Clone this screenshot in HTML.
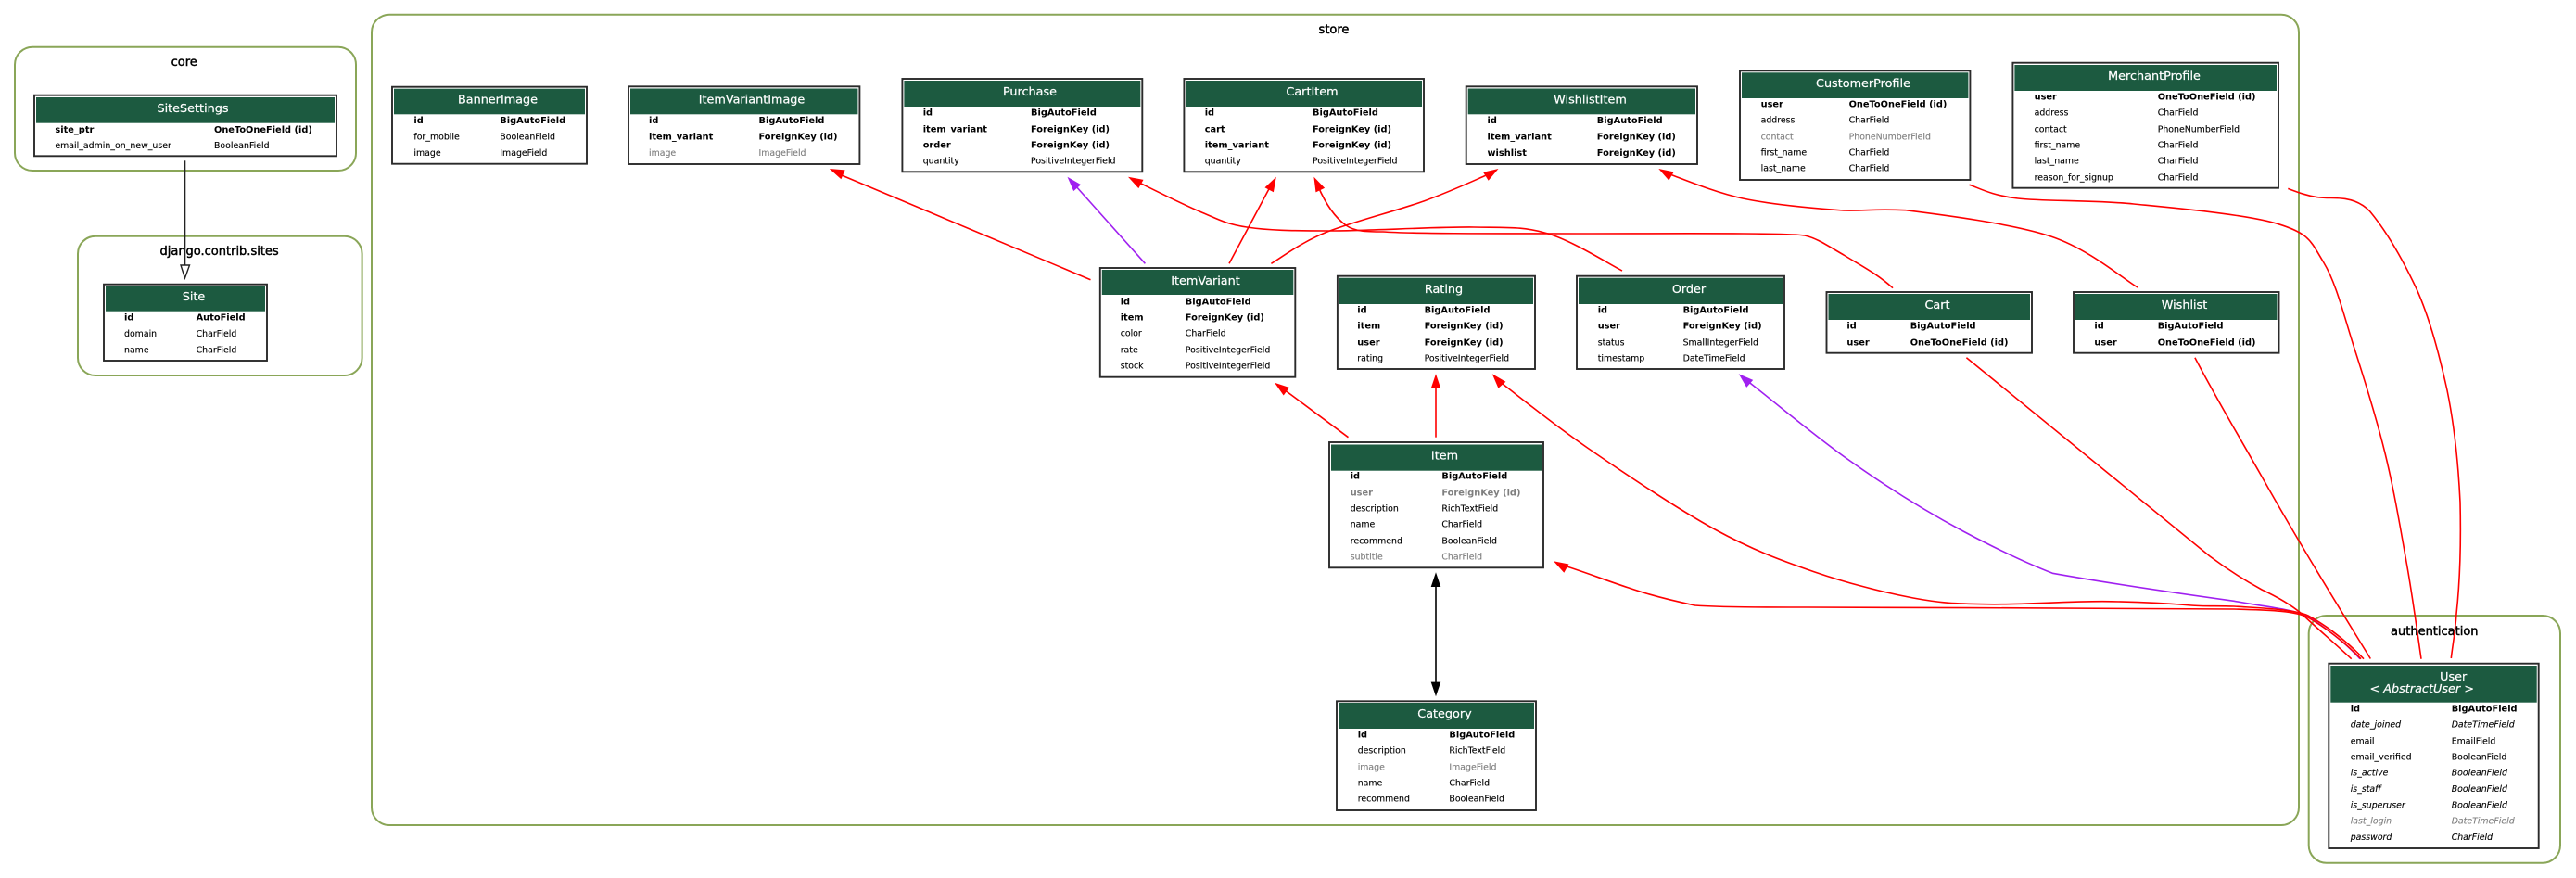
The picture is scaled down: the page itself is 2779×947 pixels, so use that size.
<!DOCTYPE html>
<html><head><meta charset="utf-8"><title>Diagram</title>
<style>
html,body{margin:0;padding:0;background:#fff;width:2779px;height:947px;overflow:hidden}
svg{display:block}
text{font-family:"DejaVu Sans","Liberation Sans",sans-serif;fill:#000}
.r{font-size:9.4px;stroke:#000;stroke-width:.12}
.b{font-size:9.8px;font-weight:bold}
.g{fill:#7f7f7f;stroke:#7f7f7f}
.i{font-style:italic}
.t{font-size:12.8px;fill:#fff;stroke:#fff;stroke-width:.2;text-anchor:middle}
.c{font-size:13px;text-anchor:middle;stroke:#000;stroke-width:.45}
.cl{fill:none;stroke:#8aa658;stroke-width:2}
.tb{fill:#fff;stroke:#2a2a2a;stroke-width:1.9}
.h{fill:#1c5a40}
.e{fill:none;stroke:#f00;stroke-width:1.6}
.p{fill:none;stroke:#a020f0;stroke-width:1.6}
</style></head><body>
<svg xmlns="http://www.w3.org/2000/svg" width="2779" height="947" viewBox="0 0 2779 947">
<rect width="2779" height="947" fill="#fff"/>

<!-- clusters -->
<rect class="cl" x="16" y="50.7" width="368" height="133.3" rx="19"/>
<text class="c" x="198.7" y="71">core</text>
<rect class="cl" x="84" y="254.7" width="306.6" height="150.3" rx="19"/>
<text class="c" x="236.6" y="275">django.contrib.sites</text>
<rect class="cl" x="401" y="15.7" width="2079" height="874.3" rx="19"/>
<text class="c" x="1439" y="36">store</text>
<rect class="cl" x="2490.7" y="664" width="271.3" height="266.7" rx="19"/>
<text class="c" x="2626.3" y="685">authentication</text>

<!-- SiteSettings -->
<rect class="tb" x="37" y="102.7" width="326" height="65.6"/><rect class="h" x="39" y="105" width="322" height="27.7"/>
<text class="t" x="208" y="121">SiteSettings</text>
<text class="b" x="59.4" y="143">site_ptr</text><text class="b" x="231" y="143">OneToOneField (id)</text>
<text class="r" x="59.4" y="160">email_admin_on_new_user</text><text class="r" x="231" y="160">BooleanField</text>

<!-- Site -->
<rect class="tb" x="112" y="306.7" width="176" height="82.3"/><rect class="h" x="114" y="308.7" width="172" height="27"/>
<text class="t" x="209" y="324">Site</text>
<text class="b" x="134" y="345.5">id</text><text class="b" x="211.6" y="345.5">AutoField</text>
<text class="r" x="134" y="363">domain</text><text class="r" x="211.6" y="363">CharField</text>
<text class="r" x="134" y="380.5">name</text><text class="r" x="211.6" y="380.5">CharField</text>

<!-- BannerImage -->
<rect class="tb" x="423" y="93.7" width="210" height="83"/><rect class="h" x="425" y="95.7" width="206" height="27.6"/>
<text class="t" x="537" y="111.5">BannerImage</text>
<text class="b" x="446.4" y="133">id</text><text class="b" x="539.3" y="133">BigAutoField</text>
<text class="r" x="446.4" y="150.5">for_mobile</text><text class="r" x="539.3" y="150.5">BooleanField</text>
<text class="r" x="446.4" y="168">image</text><text class="r" x="539.3" y="168">ImageField</text>

<!-- ItemVariantImage -->
<rect class="tb" x="678" y="93.3" width="249.4" height="83.7"/><rect class="h" x="680" y="95.5" width="245.4" height="27.8"/>
<text class="t" x="811" y="111.5">ItemVariantImage</text>
<text class="b" x="700" y="133">id</text><text class="b" x="818.5" y="133">BigAutoField</text>
<text class="b" x="700" y="150.5">item_variant</text><text class="b" x="818.5" y="150.5">ForeignKey (id)</text>
<text class="r g" x="700" y="168">image</text><text class="r g" x="818.5" y="168">ImageField</text>

<!-- Purchase -->
<rect class="tb" x="973.4" y="85" width="258.9" height="100.3"/><rect class="h" x="975.4" y="87" width="254.9" height="28"/>
<text class="t" x="1111" y="103">Purchase</text>
<text class="b" x="995.7" y="124.5">id</text><text class="b" x="1112" y="124.5">BigAutoField</text>
<text class="b" x="995.7" y="142.5">item_variant</text><text class="b" x="1112" y="142.5">ForeignKey (id)</text>
<text class="b" x="995.7" y="159.5">order</text><text class="b" x="1112" y="159.5">ForeignKey (id)</text>
<text class="r" x="995.7" y="176.5">quantity</text><text class="r" x="1112" y="176.5">PositiveIntegerField</text>

<!-- CartItem -->
<rect class="tb" x="1277.4" y="85" width="258.6" height="100.3"/><rect class="h" x="1279.4" y="87" width="254.6" height="28"/>
<text class="t" x="1415.5" y="103">CartItem</text>
<text class="b" x="1299.7" y="124.5">id</text><text class="b" x="1416" y="124.5">BigAutoField</text>
<text class="b" x="1299.7" y="142.5">cart</text><text class="b" x="1416" y="142.5">ForeignKey (id)</text>
<text class="b" x="1299.7" y="159.5">item_variant</text><text class="b" x="1416" y="159.5">ForeignKey (id)</text>
<text class="r" x="1299.7" y="176.5">quantity</text><text class="r" x="1416" y="176.5">PositiveIntegerField</text>

<!-- WishlistItem -->
<rect class="tb" x="1581.7" y="93.3" width="249.3" height="83.7"/><rect class="h" x="1583.7" y="95.5" width="245.3" height="27.8"/>
<text class="t" x="1715.5" y="111.5">WishlistItem</text>
<text class="b" x="1604.5" y="133">id</text><text class="b" x="1722.8" y="133">BigAutoField</text>
<text class="b" x="1604.5" y="150.5">item_variant</text><text class="b" x="1722.8" y="150.5">ForeignKey (id)</text>
<text class="b" x="1604.5" y="168">wishlist</text><text class="b" x="1722.8" y="168">ForeignKey (id)</text>

<!-- CustomerProfile -->
<rect class="tb" x="1877" y="76.3" width="248.4" height="117.7"/><rect class="h" x="1879" y="78.3" width="244.4" height="27.7"/>
<text class="t" x="2010" y="94">CustomerProfile</text>
<text class="b" x="1899.6" y="115.5">user</text><text class="b" x="1994.6" y="115.5">OneToOneField (id)</text>
<text class="r" x="1899.6" y="132.5">address</text><text class="r" x="1994.6" y="132.5">CharField</text>
<text class="r g" x="1899.6" y="150.5">contact</text><text class="r g" x="1994.6" y="150.5">PhoneNumberField</text>
<text class="r" x="1899.6" y="167.5">first_name</text><text class="r" x="1994.6" y="167.5">CharField</text>
<text class="r" x="1899.6" y="184.5">last_name</text><text class="r" x="1994.6" y="184.5">CharField</text>

<!-- MerchantProfile -->
<rect class="tb" x="2171.4" y="67.7" width="286.6" height="135"/><rect class="h" x="2173.4" y="70" width="282.6" height="28"/>
<text class="t" x="2324" y="86">MerchantProfile</text>
<text class="b" x="2194.6" y="107.5">user</text><text class="b" x="2327.7" y="107.5">OneToOneField (id)</text>
<text class="r" x="2194.6" y="124.5">address</text><text class="r" x="2327.7" y="124.5">CharField</text>
<text class="r" x="2194.6" y="142.5">contact</text><text class="r" x="2327.7" y="142.5">PhoneNumberField</text>
<text class="r" x="2194.6" y="159.5">first_name</text><text class="r" x="2327.7" y="159.5">CharField</text>
<text class="r" x="2194.6" y="176.5">last_name</text><text class="r" x="2327.7" y="176.5">CharField</text>
<text class="r" x="2194.6" y="194.5">reason_for_signup</text><text class="r" x="2327.7" y="194.5">CharField</text>

<!-- Cart -->
<rect class="tb" x="1970.5" y="315" width="221.5" height="65.7"/><rect class="h" x="1972.5" y="317" width="217.5" height="28"/>
<text class="t" x="2090" y="333">Cart</text>
<text class="b" x="1992.4" y="354.5">id</text><text class="b" x="2060.7" y="354.5">BigAutoField</text>
<text class="b" x="1992.4" y="372.5">user</text><text class="b" x="2060.7" y="372.5">OneToOneField (id)</text>

<!-- Wishlist -->
<rect class="tb" x="2237" y="315" width="221.5" height="65.7"/><rect class="h" x="2239" y="317" width="217.5" height="28"/>
<text class="t" x="2356.5" y="333">Wishlist</text>
<text class="b" x="2259.4" y="354.5">id</text><text class="b" x="2327.7" y="354.5">BigAutoField</text>
<text class="b" x="2259.4" y="372.5">user</text><text class="b" x="2327.7" y="372.5">OneToOneField (id)</text>

<!-- ItemVariant -->
<rect class="tb" x="1186.8" y="289" width="210.5" height="117.7"/><rect class="h" x="1188.8" y="291" width="206.5" height="27"/>
<text class="t" x="1300.5" y="307">ItemVariant</text>
<text class="b" x="1208.7" y="328.5">id</text><text class="b" x="1278.8" y="328.5">BigAutoField</text>
<text class="b" x="1208.7" y="345.5">item</text><text class="b" x="1278.8" y="345.5">ForeignKey (id)</text>
<text class="r" x="1208.7" y="362.5">color</text><text class="r" x="1278.8" y="362.5">CharField</text>
<text class="r" x="1208.7" y="380.5">rate</text><text class="r" x="1278.8" y="380.5">PositiveIntegerField</text>
<text class="r" x="1208.7" y="397.5">stock</text><text class="r" x="1278.8" y="397.5">PositiveIntegerField</text>

<!-- Rating -->
<rect class="tb" x="1442.9" y="297.7" width="213.1" height="100.3"/><rect class="h" x="1444.9" y="299.7" width="209.1" height="28.3"/>
<text class="t" x="1557.5" y="316">Rating</text>
<text class="b" x="1464.3" y="337.5">id</text><text class="b" x="1536.6" y="337.5">BigAutoField</text>
<text class="b" x="1464.3" y="354.5">item</text><text class="b" x="1536.6" y="354.5">ForeignKey (id)</text>
<text class="b" x="1464.3" y="372.5">user</text><text class="b" x="1536.6" y="372.5">ForeignKey (id)</text>
<text class="r" x="1464.3" y="389.5">rating</text><text class="r" x="1536.6" y="389.5">PositiveIntegerField</text>

<!-- Order -->
<rect class="tb" x="1701" y="297.7" width="224" height="100.3"/><rect class="h" x="1703" y="299.7" width="220" height="28.3"/>
<text class="t" x="1822" y="316">Order</text>
<text class="b" x="1723.7" y="337.5">id</text><text class="b" x="1815.6" y="337.5">BigAutoField</text>
<text class="b" x="1723.7" y="354.5">user</text><text class="b" x="1815.6" y="354.5">ForeignKey (id)</text>
<text class="r" x="1723.7" y="372.5">status</text><text class="r" x="1815.6" y="372.5">SmallIntegerField</text>
<text class="r" x="1723.7" y="389.5">timestamp</text><text class="r" x="1815.6" y="389.5">DateTimeField</text>

<!-- Item -->
<rect class="tb" x="1434" y="477" width="231" height="135.3"/><rect class="h" x="1436" y="479.5" width="227" height="28.2"/>
<text class="t" x="1558.5" y="495.5">Item</text>
<text class="b" x="1456.7" y="516.5">id</text><text class="b" x="1555.4" y="516.5">BigAutoField</text>
<text class="b g" style="stroke:none" x="1456.7" y="534.5">user</text><text class="b g" style="stroke:none" x="1555.4" y="534.5">ForeignKey (id)</text>
<text class="r" x="1456.7" y="551.5">description</text><text class="r" x="1555.4" y="551.5">RichTextField</text>
<text class="r" x="1456.7" y="568.5">name</text><text class="r" x="1555.4" y="568.5">CharField</text>
<text class="r" x="1456.7" y="586.5">recommend</text><text class="r" x="1555.4" y="586.5">BooleanField</text>
<text class="r g" x="1456.7" y="603.5">subtitle</text><text class="r g" x="1555.4" y="603.5">CharField</text>

<!-- Category -->
<rect class="tb" x="1442" y="756.3" width="215" height="117.7"/><rect class="h" x="1444" y="758" width="211" height="28"/>
<text class="t" x="1558.5" y="774">Category</text>
<text class="b" x="1464.7" y="795.5">id</text><text class="b" x="1563.4" y="795.5">BigAutoField</text>
<text class="r" x="1464.7" y="812.5">description</text><text class="r" x="1563.4" y="812.5">RichTextField</text>
<text class="r g" x="1464.7" y="830.5">image</text><text class="r g" x="1563.4" y="830.5">ImageField</text>
<text class="r" x="1464.7" y="847.5">name</text><text class="r" x="1563.4" y="847.5">CharField</text>
<text class="r" x="1464.7" y="864.5">recommend</text><text class="r" x="1563.4" y="864.5">BooleanField</text>

<!-- User -->
<rect class="tb" x="2512.3" y="715.7" width="226.4" height="199.3"/><rect class="h" x="2514.3" y="718" width="222.4" height="39.7"/>
<text class="t" x="2646.7" y="734">User</text>
<text class="t i" x="2612.7" y="747">&lt; AbstractUser &gt;</text>
<text class="b" x="2535.7" y="767.5">id</text><text class="b" x="2644.7" y="767.5">BigAutoField</text>
<text class="r i" x="2535.7" y="784.5">date_joined</text><text class="r i" x="2644.7" y="784.5">DateTimeField</text>
<text class="r" x="2535.7" y="802.5">email</text><text class="r" x="2644.7" y="802.5">EmailField</text>
<text class="r" x="2535.7" y="819.5">email_verified</text><text class="r" x="2644.7" y="819.5">BooleanField</text>
<text class="r i" x="2535.7" y="836.5">is_active</text><text class="r i" x="2644.7" y="836.5">BooleanField</text>
<text class="r i" x="2535.7" y="854">is_staff</text><text class="r i" x="2644.7" y="854">BooleanField</text>
<text class="r i" x="2535.7" y="871.5">is_superuser</text><text class="r i" x="2644.7" y="871.5">BooleanField</text>
<text class="r i g" x="2535.7" y="888.5">last_login</text><text class="r i g" x="2644.7" y="888.5">DateTimeField</text>
<text class="r i" x="2535.7" y="906">password</text><text class="r i" x="2644.7" y="906">CharField</text>

<!-- edges -->
<line x1="199.5" y1="173.3" x2="199.5" y2="286" stroke="#222" stroke-width="1.6"/>
<polygon points="199.5,300 195,286 204.5,286" fill="#fff" stroke="#222" stroke-width="1.4"/>

<path class="p" d="M1235.4 284.3 L1160 200"/>
<polygon points="1151.5,190.7 1158.2,206.1 1166.1,199.1" fill="#a020f0"/>
<path class="p" d="M2546 710.7 C2530 693 2510 678 2490 665 C2475 657 2440 654 2410 648.3 C2350 640 2280 630 2214.3 618.3 C2180 605 2150 590 2117.9 573 C2075 550 2035 525 1992.9 495 C1955 468 1920 438 1884 410"/>
<polygon points="1875.7,403.3 1884.2,417.9 1891.2,409.9" fill="#a020f0"/>

<path class="e" d="M1176.5 301.7 L908 189"/>
<polygon points="894.8,182 907.4,193.2 911.6,183.4" fill="#f00"/>
<path class="e" d="M1750 292 C1736.7 285.3 1696.7 259.8 1670 252 C1643.3 244.2 1629.3 245.5 1590 245 C1550.7 244.5 1474.8 249 1434 249 C1393.2 249 1368.3 248.5 1345 245 C1321.7 241.5 1314.3 236.5 1294 228 C1273.7 219.5 1234.8 199.7 1223 194"/>
<polygon points="1217,190.7 1228.3,203.1 1233.5,193.9" fill="#f00"/>
<path class="e" d="M1326 284.3 L1371 200"/>
<polygon points="1376.8,190.7 1364.5,202.3 1373.9,207.3" fill="#f00"/>
<path class="e" d="M2042 310.7 C2025 295 2005 285 1989 275 C1970 264 1960 257 1947 254 C1930 251 1800 252 1700 252 C1600 252 1520 252 1492 250 C1475 250 1462 250 1452 243 C1438 233 1428 215 1422 201"/>
<polygon points="1417.4,190.7 1419.5,207.4 1429.1,202.8" fill="#f00"/>
<path class="e" d="M1371.4 284.3 C1381 278.8 1402 262.3 1429.5 251 C1457 239.7 1506.8 227.4 1536.6 216.7 C1566.4 206 1596 192 1608 187"/>
<polygon points="1616.5,182 1600.1,185.8 1605.7,194.8" fill="#f00"/>
<path class="e" d="M2306 310 C2290.4 300.8 2254.2 268.9 2212.5 255 C2170.8 241.1 2093.3 231.4 2056 226.7 C2018.8 225 2018.3 227.5 1989 227 C1959.7 224.9 1912.2 220.8 1880 214 C1847.8 207.2 1810 190.7 1796 186"/>
<polygon points="1789.3,182 1800.4,194.6 1805.7,185.4" fill="#f00"/>
<line x1="1549" y1="471.7" x2="1549" y2="415" stroke="#f00" stroke-width="1.6"/>
<polygon points="1549,403.3 1543.7,419 1554.3,419" fill="#f00"/>
<line x1="1454.5" y1="471.7" x2="1385" y2="420" stroke="#f00" stroke-width="1.6"/>
<polygon points="1375,412.7 1384.7,426.5 1391,418" fill="#f00"/>
<path class="e" d="M2550 710.7 C2530 690 2510 675 2490 664 C2475 657 2440 656 2410 654 C2390 653.5 2375 654 2364 653 C2330 650 2300 649 2268 648.7 C2225 648.7 2180 652.5 2143 651.7 C2109 651.1 2095 650.8 2064 645 C2033 639.2 1992.7 629 1957 616.7 C1921.3 604.4 1890.8 593.3 1850 571 C1809.2 548.7 1751.3 509.7 1712.5 483 C1673.7 456.3 1633 423 1617 411"/>
<polygon points="1609.8,403.3 1616.4,418.8 1624.4,411.8" fill="#f00"/>
<path class="e" d="M2547 710.7 C2530 693 2510 678 2490 666 C2475 658 2440 658 2410 657 C2300 656 2100 655.5 1950 655 C1900 655 1860 655 1828.6 653 C1805 648 1780 642 1757 634 C1735 627 1710 617 1684 609"/>
<polygon points="1676,605.3 1687.3,617.7 1692.5,608.5" fill="#f00"/>
<path class="e" d="M2121.4 385.7 L2384 600 C2400 612 2420 625 2440 636 C2455 643 2470 651 2483 662 C2500 678 2520 695 2536.7 710.7"/>
<path class="e" d="M2367.9 385.7 C2390 428 2415 470 2440 514 C2480 585 2520 650 2557.3 710.5"/>
<path class="e" d="M2124.5 199.3 C2133.2 201.8 2147.2 210.6 2176.8 214 C2206.4 217.4 2254.9 215.4 2301.8 220 C2348.7 224.6 2423.8 231.2 2458 241.7 C2492.2 252.2 2493 260.6 2506.7 283 C2520.4 305.4 2528.9 341.5 2540 376 C2551.1 410.5 2563.8 451 2573.3 490 C2582.8 529 2590.2 573.2 2596.7 610 C2603.2 646.8 2609.5 694 2612 710.7"/>
<path class="e" d="M2468.3 203.4 C2478 207 2488 211 2500 212.7 C2510 214 2520 213 2530 214.4 C2540 216 2549 220 2556.7 228 C2575 250 2592 280 2606.7 311 C2622 345 2632 385 2640 421 C2648 460 2652 500 2654 541.6 C2655 585 2654 625 2650 662 C2649 680 2646 695 2644.3 710"/>

<line x1="1549" y1="630" x2="1549" y2="738" stroke="#000" stroke-width="1.6"/>
<polygon points="1549,617.3 1543.7,633 1554.3,633" fill="#000"/>
<polygon points="1549,751.3 1543.7,735.6 1554.3,735.6" fill="#000"/>
</svg>
</body></html>
